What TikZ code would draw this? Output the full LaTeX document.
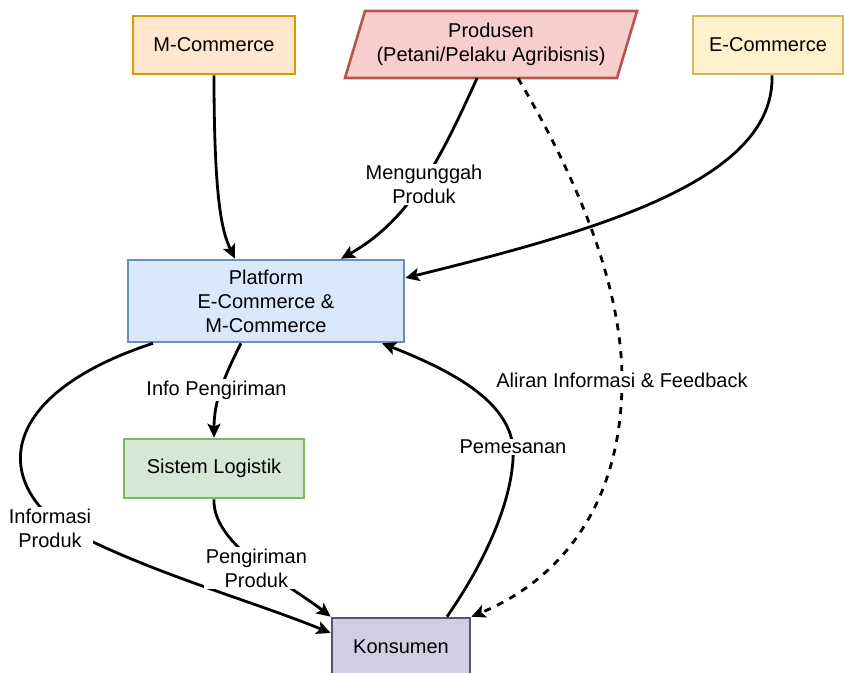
\documentclass[tikz,border=0pt]{standalone}
\usepackage{fontspec}
\setmainfont{Liberation Sans}
\usetikzlibrary{arrows.meta}
\definecolor{orgF}{HTML}{FFE6CC}\definecolor{orgD}{HTML}{D79B00}
\definecolor{redF}{HTML}{F8CECC}\definecolor{redD}{HTML}{B85450}
\definecolor{yelF}{HTML}{FFF2CC}\definecolor{yelD}{HTML}{D6B656}
\definecolor{bluF}{HTML}{DAE8FC}\definecolor{bluD}{HTML}{6C8EBF}
\definecolor{grnF}{HTML}{D5E8D4}\definecolor{grnD}{HTML}{82B366}
\definecolor{purF}{HTML}{D0CEE2}\definecolor{purD}{HTML}{56517E}
\begin{document}
\begin{tikzpicture}[x=1pt,y=-1pt,
  every node/.style={font=\fontsize{20}{24}\selectfont, align=center},
  box/.style={draw, line width=2.6pt, inner sep=0pt},
  flow/.style={line width=2.8pt, -{Stealth[length=14pt,width=13pt,inset=3pt]}},
  dotflow/.style={flow, dash pattern=on 7pt off 7pt},
  lbl/.style={fill=white, inner sep=1.5pt}]
\useasboundingbox (0,0) rectangle (845,672);

% sources
\node[box, fill=orgF, draw=orgD, minimum width=162pt, minimum height=58pt] (mcom) at (214,45) {M-Commerce};
\node[box, fill=yelF, draw=yelD, minimum width=150pt, minimum height=58pt] (ecom) at (768,45) {E-Commerce};
\filldraw[fill=redF, draw=redD, line width=2.6pt]
  (365,11) -- (637,11) -- (617,78) -- (345,78) -- cycle;
\node[inner sep=0pt, minimum width=272pt, minimum height=67pt] (prod) at (491,44.5)
  {Produsen\\(Petani/Pelaku Agribisnis)};

% platform, logistics and consumer
\node[box, fill=bluF, draw=bluD, minimum width=276pt, minimum height=82pt] (plat) at (266,301)
  {Platform\\E-Commerce \&\\M-Commerce};
\node[box, fill=grnF, draw=grnD, minimum width=180pt, minimum height=59pt] (log) at (214,468.5) {Sistem Logistik};
\node[box, fill=purF, draw=purD, minimum width=138pt, minimum height=58pt] (kon) at (401,647) {Konsumen};

% into the platform
\draw[flow] (mcom.south) .. controls (214,200) and (222,232) .. ([xshift=-31pt]plat.north);
\draw[flow] ([xshift=-14pt]prod.south) .. controls (440,160) and (410,220) .. ([xshift=75pt]plat.north)
  node[lbl, pos=0.5, xshift=3pt] {Mengunggah\\Produk};
\draw[flow] ([xshift=4pt]ecom.south) .. controls (775,180) and (600,230) .. ([yshift=23pt]plat.east);

% feedback from the producer to the consumer
\draw[dotflow] ([xshift=27pt]prod.south) .. controls (590,200) and (622,300) .. (622,380)
  node[lbl] {Aliran Informasi \& Feedback}
  .. controls (622,505) and (560,580) .. (kon.north east);

% orders back to the platform
\draw[flow] ([xshift=46pt]kon.north) .. controls (500,540) and (515,480) .. (513,447)
  node[lbl] {Pemesanan}
  .. controls (508,400) and (450,370) .. ([xshift=116pt]plat.south);

% platform to logistics
\draw[flow] ([xshift=-25pt]plat.south) .. controls (225,375) and (214,400) .. (log.north)
  node[lbl, pos=0.5, xshift=-5pt, yshift=-2pt] {Info Pengiriman};

% product information to the consumer
\draw[flow] ([xshift=-113pt]plat.south) .. controls (10,390) and (-10,470) .. (58,524)
  node[lbl, xshift=-8pt, yshift=-4pt] {Informasi\\Produk}
  .. controls (140,570) and (250,600) .. ([yshift=14pt]kon.west);

% delivery to the consumer
\draw[flow] (log.south) .. controls (212,545) and (290,585) .. (kon.north west)
  node[lbl, pos=0.5, yshift=-5pt] {Pengiriman\\Produk};
\end{tikzpicture}
\end{document}
